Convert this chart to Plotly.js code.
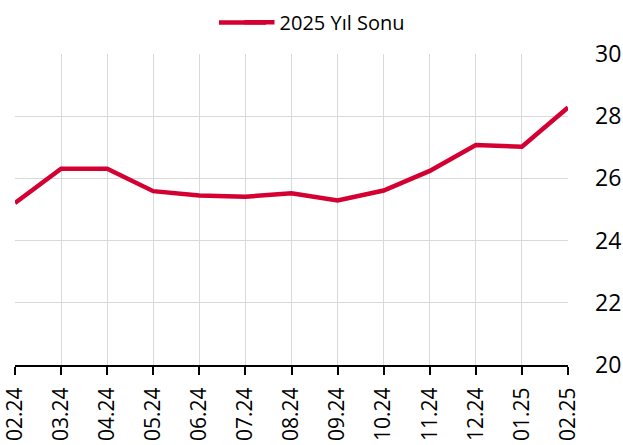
<!DOCTYPE html>
<html>
<head>
<meta charset="utf-8">
<script src="https://cdn.plot.ly/plotly-3.0.1.min.js"></script>
<style>html,body{margin:0;padding:0;background:#fff}#chart{width:623px;height:445px}</style>
</head>
<body>
<div id="chart"></div>
<script>
const categories = ["02.24","03.24","04.24","05.24","06.24","07.24","08.24","09.24","10.24","11.24","12.24","01.25","02.25"];
const seriesName = "2025 Yıl Sonu";
const values = [25.21, 26.31, 26.31, 25.59, 25.45, 25.41, 25.52, 25.29, 25.61, 26.24, 27.07, 27.02, 28.28];
const yTicks = [20, 22, 24, 26, 28, 30];
const lineColor = "#d50032";

const trace = {
  x: categories,
  y: values,
  type: "scatter",
  mode: "lines",
  name: seriesName,
  line: {color: lineColor, width: 4.5}
};

const layout = {
  width: 623, height: 445,
  margin: {l: 15, r: 55, t: 54, b: 80, autoexpand: false},
  paper_bgcolor: "#fff", plot_bgcolor: "#fff",
  font: {family: "Open Sans, sans-serif", color: "#000"},
  showlegend: true,
  legend: {
    orientation: "h", x: 0.406, xanchor: "left",
    y: 0.95, yanchor: "middle", yref: "container",
    bgcolor: "rgba(0,0,0,0)",
    font: {size: 20, color: "#000"}, itemwidth: 30
  },
  shapes: [{
    type: "line", xref: "paper", yref: "paper",
    x0: (219 - 15) / 553, x1: (266 - 15) / 553,
    y0: (365 - 22.5) / 311, y1: (365 - 22.5) / 311,
    line: {color: lineColor, width: 4.5}
  }],
  xaxis: {
    type: "category",
    range: [0, 12],
    showgrid: true, gridcolor: "#d9d9d9", gridwidth: 1,
    showline: true, linecolor: "#000", linewidth: 2,
    ticks: "outside", ticklen: 8, tickcolor: "#000", tickwidth: 2,
    tickangle: -90, ticklabelstandoff: 4,
    tickfont: {size: 21, color: "#000"},
    zeroline: false, fixedrange: true
  },
  yaxis: {
    side: "right",
    range: [20, 30],
    tickvals: yTicks,
    ticktext: yTicks.map(String),
    showgrid: true, gridcolor: "#d9d9d9", gridwidth: 1,
    showline: false, zeroline: false,
    ticks: "", ticklabelstandoff: 26,
    tickfont: {size: 23, color: "#000"},
    fixedrange: true
  }
};

Plotly.newPlot("chart", [trace], layout, {displayModeBar: false, staticPlot: true});
</script>
</body>
</html>
